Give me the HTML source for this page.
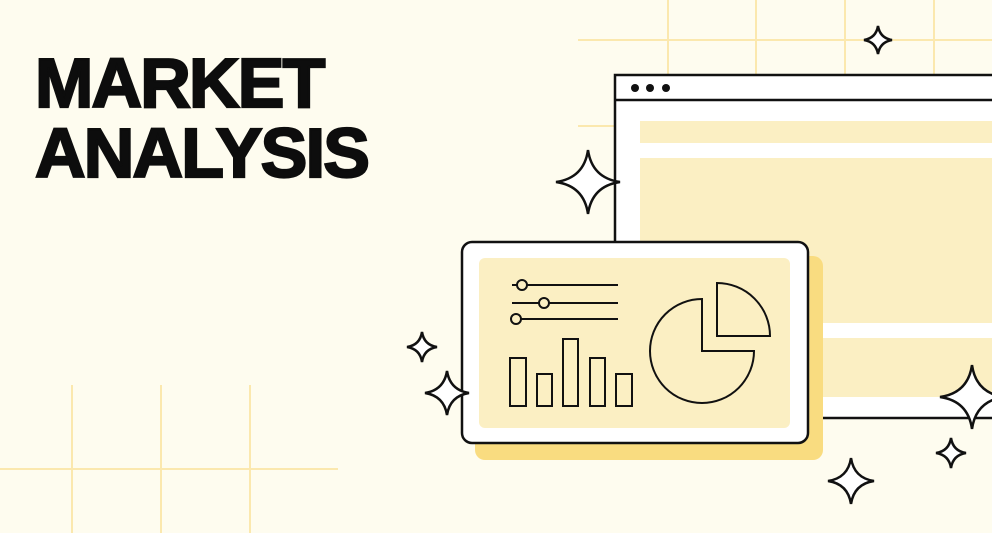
<!DOCTYPE html>
<html><head><meta charset="utf-8">
<style>
html,body{margin:0;padding:0;background:#fff;}
#wrap{position:relative;width:992px;height:544px;overflow:hidden;background:#fff;}
svg{position:absolute;left:0;top:0;}
.title{position:absolute;left:35px;font-family:"Liberation Sans",sans-serif;font-weight:bold;font-size:70px;letter-spacing:-1.8px;color:#0d0d0d;-webkit-text-stroke:2.2px #0d0d0d;line-height:1;margin:0;}
</style></head>
<body>
<div id="wrap">
<svg width="992" height="544" viewBox="0 0 992 544">
  <rect x="0" y="0" width="992" height="533" fill="#fefcef"/>
  <g stroke="#fbe8ae" stroke-width="2">
    <line x1="578" y1="40" x2="992" y2="40"/>
    <line x1="578" y1="126" x2="620" y2="126"/>
    <line x1="668" y1="0" x2="668" y2="76"/>
    <line x1="756" y1="0" x2="756" y2="76"/>
    <line x1="845" y1="0" x2="845" y2="76"/>
    <line x1="934" y1="0" x2="934" y2="76"/>
  </g>
  <g stroke="#fbe8ae" stroke-width="2">
    <line x1="0" y1="469" x2="338" y2="469"/>
    <line x1="72" y1="385" x2="72" y2="533"/>
    <line x1="161" y1="385" x2="161" y2="533"/>
    <line x1="250" y1="385" x2="250" y2="533"/>
  </g>
  <g>
    <rect x="615" y="75" width="390" height="343" fill="#fff" stroke="#111" stroke-width="2.5"/>
    <line x1="615" y1="100" x2="992" y2="100" stroke="#111" stroke-width="2.5"/>
    <circle cx="635" cy="88" r="4" fill="#111"/>
    <circle cx="650" cy="88" r="4" fill="#111"/>
    <circle cx="666" cy="88" r="4" fill="#111"/>
    <rect x="640" y="121" width="352" height="22" fill="#fbefc3"/>
    <rect x="640" y="158" width="352" height="165" fill="#fbefc3"/>
    <rect x="640" y="338" width="352" height="59" fill="#fbefc3"/>
  </g>
  <g>
    <rect x="475" y="256" width="348" height="204" rx="10" fill="#f9dc80"/>
    <rect x="462" y="242" width="346" height="201" rx="10" fill="#fff" stroke="#111" stroke-width="2.5"/>
    <rect x="479" y="258" width="311" height="170" rx="6" fill="#fbefc3"/>
    <g stroke="#111" stroke-width="2" fill="#fbefc3">
      <line x1="512" y1="285" x2="618" y2="285"/>
      <line x1="512" y1="303" x2="618" y2="303"/>
      <line x1="512" y1="319" x2="618" y2="319"/>
      <circle cx="522" cy="285" r="5"/>
      <circle cx="544" cy="303" r="5"/>
      <circle cx="516" cy="319" r="5"/>
    </g>
    <g stroke="#111" stroke-width="2" fill="#fbefc3">
      <rect x="510" y="358" width="16" height="48"/>
      <rect x="537" y="374" width="15" height="32"/>
      <rect x="563" y="339" width="15" height="67"/>
      <rect x="590" y="358" width="15" height="48"/>
      <rect x="616" y="374" width="16" height="32"/>
    </g>
    <g stroke="#111" stroke-width="2" fill="#fbefc3">
      <path d="M702 299 A52 52 0 1 0 754 351 L702 351 Z"/>
      <path d="M717 283 A53 53 0 0 1 770 336 L717 336 Z"/>
    </g>
  </g>
  <g fill="#fff" stroke="#111" stroke-width="2.5" stroke-linejoin="miter">
    <path d="M588 150 Q592 178 620 182 Q592 186 588 214 Q584 186 556 182 Q584 178 588 150 Z"/>
    <path d="M878 26 Q880 38 892 40 Q880 42 878 54 Q876 42 864 40 Q876 38 878 26 Z"/>
    <path d="M422 332 Q424 345 437 347 Q424 349 422 362 Q420 349 407 347 Q420 345 422 332 Z"/>
    <path d="M447 371 Q450 390 469 393 Q450 396 447 415 Q444 396 425 393 Q444 390 447 371 Z"/>
    <path d="M972 365 Q976 393 1004 397 Q976 401 972 429 Q968 401 940 397 Q968 393 972 365 Z"/>
    <path d="M951 438 Q953 451 966 453 Q953 455 951 468 Q949 455 936 453 Q949 451 951 438 Z"/>
    <path d="M851 458 Q854 478 874 481 Q854 484 851 504 Q848 484 828 481 Q848 478 851 458 Z"/>
  </g>
</svg>
<div class="title" style="top:48px">MARKET</div>
<div class="title" style="top:118px">ANALYSIS</div>
</div>
</body></html>
